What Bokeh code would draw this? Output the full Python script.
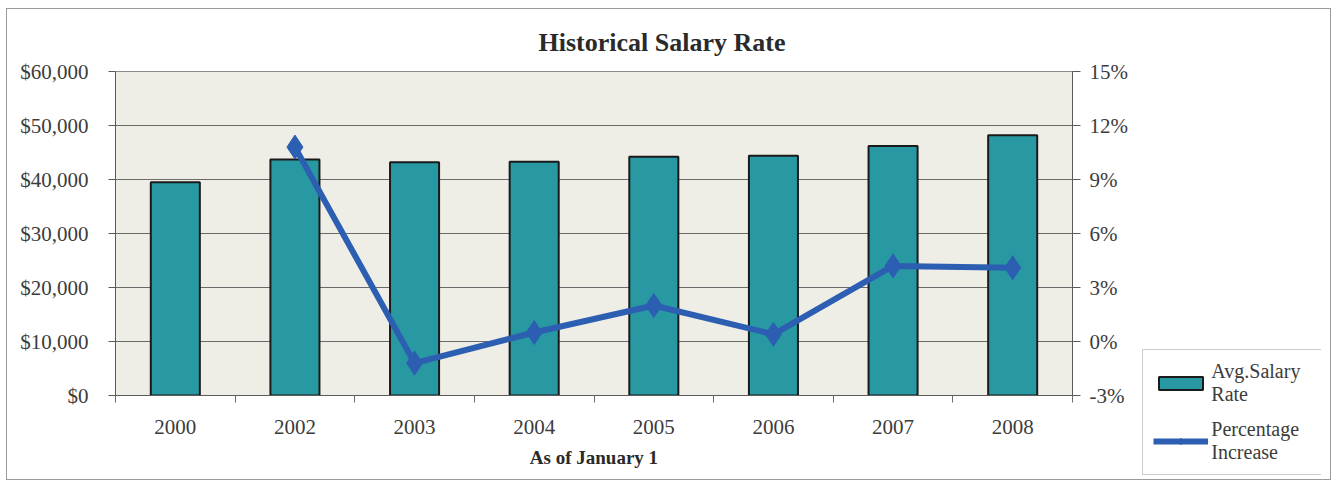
from bokeh.plotting import figure
from bokeh.layouts import column
from bokeh.models import (Range1d, LinearAxis, FixedTicker, NumeralTickFormatter,
                          PrintfTickFormatter, Legend, LegendItem, ColumnDataSource)
from bokeh.embed import file_html
from bokeh.resources import INLINE

years = ["2000", "2002", "2003", "2004", "2005", "2006", "2007", "2008"]
salary = [39500, 43700, 43200, 43300, 44200, 44400, 46200, 48200]
pct_increase = [None, 10.8, -1.2, 0.5, 2.0, 0.4, 4.2, 4.1]
salary_ticks = [0, 10000, 20000, 30000, 40000, 50000, 60000]
pct_ticks = [-3, 0, 3, 6, 9, 12, 15]
series_names = ["Avg.Salary\nRate", "Percentage\nIncrease"]

FONT = "Liberation Serif"
BAR = "#2899A3"
LINE = "#2C5EB2"
TXT = "#3c3c3c"

xc = [i + 0.5 for i in range(len(years))]
src = ColumnDataSource(dict(x=xc, salary=salary))
lx = [xc[i] for i in range(len(years)) if pct_increase[i] is not None]
ly = [v for v in pct_increase if v is not None]
lsrc = ColumnDataSource(dict(x=lx, y=ly))

p = figure(width=1325, height=472, output_backend="svg", toolbar_location=None,
           x_range=Range1d(0, len(years)), y_range=Range1d(0, 60000),
           min_border_left=108, min_border_right=260, min_border_top=62,
           min_border_bottom=86, title="Historical Salary Rate")
p.styles = {"border": "1px solid #9a9a9a", "margin-left": "6px", "margin-top": "8px"}
p.background_fill_color = "#EEEDE6"
p.border_fill_color = "white"
p.outline_line_color = "#8a8a8a"

p.title.text_font = FONT
p.title.text_font_size = "26px"
p.title.text_font_style = "bold"
p.title.text_color = "#2a2a2a"
p.title.align = "left"
p.title.offset = 423
p.title.standoff = 29

p.extra_y_ranges = {"pct": Range1d(-3, 15)}

bar_style = dict(fill_color=BAR, line_color="#1a1a1a", line_width=2)
line_style = dict(line_color=LINE, line_width=6)
mk_style = dict(marker="diamond", size=24, fill_color=LINE, line_color=LINE)

p.vbar(x="x", top="salary", width=0.41, source=src, **bar_style)
p.line("x", "y", source=lsrc, y_range_name="pct", **line_style)
p.scatter("x", "y", source=lsrc, y_range_name="pct", **mk_style)

# x axis
xa = p.xaxis[0]
xa.ticker = FixedTicker(ticks=xc, minor_ticks=list(range(len(years) + 1)))
xa.major_label_overrides = {x: y for x, y in zip(xc, years)}
xa.major_tick_out = 0
xa.major_tick_in = 0
xa.minor_tick_out = 7
xa.minor_tick_in = 0
xa.minor_tick_line_color = "#6a6a6a"
xa.axis_line_color = "#5a5a5a"
xa.major_label_standoff = 17
xa.major_label_text_font = FONT
xa.major_label_text_font_size = "21px"
xa.major_label_text_color = TXT
xa.axis_label = "As of January 1"
xa.axis_label_text_font = FONT
xa.axis_label_text_font_size = "19px"
xa.axis_label_text_font_style = "bold"
xa.axis_label_text_color = "#2a2a2a"
xa.axis_label_standoff = 10

ya = p.yaxis[0]
ya.ticker = FixedTicker(ticks=salary_ticks)
ya.formatter = NumeralTickFormatter(format="$0,0")
ya.major_tick_out = 7
ya.major_tick_in = 0
ya.minor_tick_line_color = None
ya.axis_line_color = "#5a5a5a"
ya.major_tick_line_color = "#5a5a5a"
ya.major_label_standoff = 20
ya.major_label_text_font = FONT
ya.major_label_text_font_size = "21px"
ya.major_label_text_color = TXT

ra = LinearAxis(y_range_name="pct", ticker=FixedTicker(ticks=pct_ticks),
                formatter=PrintfTickFormatter(format="%d%%"))
ra.major_tick_out = 8
ra.major_tick_in = 0
ra.minor_tick_line_color = None
ra.axis_line_color = "#5a5a5a"
ra.major_tick_line_color = "#5a5a5a"
ra.major_label_standoff = 9
ra.major_label_text_font = FONT
ra.major_label_text_font_size = "21px"
ra.major_label_text_color = TXT
p.add_layout(ra, "right")

p.xgrid.grid_line_color = None
p.ygrid.ticker = FixedTicker(ticks=salary_ticks)
p.ygrid.grid_line_color = "#6a6a6a"
p.ygrid.grid_line_width = 1

# legend box (separate small figure laid over the chart's lower right corner)
q = figure(width=192, height=134, output_backend="svg", toolbar_location=None,
           x_range=Range1d(0, 1), y_range=Range1d(0, 1),
           x_axis_location=None, y_axis_location=None,
           min_border=0, min_border_left=0, min_border_right=0,
           min_border_top=0, min_border_bottom=0)
q.styles = {"margin-left": "1134px", "margin-top": "-134px"}
q.grid.grid_line_color = None
q.background_fill_alpha = 0
q.border_fill_alpha = 0
q.outline_line_color = None
# hidden sample marks (outside the visible range) so the legend can draw its swatches
hidden = ColumnDataSource(dict(x=[-5.0], y=[-5.0]))
rb = q.vbar(x="x", top="y", width=0.1, source=hidden, **bar_style)
rl = q.line("x", "y", source=hidden, **line_style)
rm = q.scatter("x", "y", source=hidden, **{**mk_style, "size": 14})

legend = Legend(items=[LegendItem(label=series_names[0], renderers=[rb]),
                       LegendItem(label=series_names[1], renderers=[rl, rm])],
                location="top_left")
legend.margin = 3
legend.label_text_font = FONT
legend.label_text_font_size = "20px"
legend.label_text_color = TXT
legend.label_text_line_height = 1.0
legend.glyph_width = 55
legend.glyph_height = 16
legend.label_standoff = 3
legend.label_width = 108
legend.padding = 10
legend.spacing = 12
legend.border_line_color = "#9a9a9a"
legend.border_line_width = 1
legend.background_fill_color = "white"
legend.background_fill_alpha = 1.0
q.add_layout(legend, "center")

layout = column(p, q)
open("out.html", "w").write(file_html(layout, INLINE))
